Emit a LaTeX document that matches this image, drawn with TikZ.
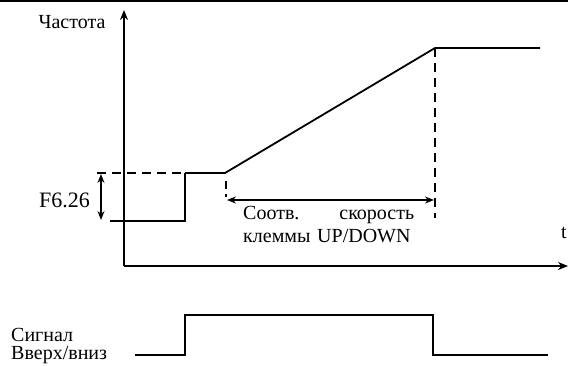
\documentclass[tikz,border=0pt]{standalone}
\usepackage{fontspec}
\setmainfont{Liberation Serif}
\usetikzlibrary{arrows.meta}
\begin{document}
\begin{tikzpicture}[x=1pt,y=-1pt,
  axis/.style={line width=1.8pt,-{Stealth[length=10pt,width=8pt]}},
  curve/.style={line width=1.8pt},
  dsh/.style={line width=1.8pt,dash pattern=on 9pt off 6pt},
  dim/.style={line width=1.3pt,{Stealth[length=9pt,width=7pt]}-{Stealth[length=9pt,width=7pt]}},
  lbl/.style={inner sep=0pt,font=\fontsize{20}{23}\selectfont},
  slbl/.style={inner sep=0pt,font=\fontsize{22}{26}\selectfont}]
\useasboundingbox (0,0) rectangle (568,365);
% top rule
\coordinate (tl) at (0,1);
\coordinate (tr) at (568,1);
\draw[line width=2pt] (tl) -- (tr);
% axes
\coordinate (O) at (124,266);
\coordinate (Ytop) at (124,10);
\coordinate (Xend) at (568,266);
\draw[axis] (O) -- (Ytop);
\draw[axis] (O) -- (Xend);
\node[lbl] (ylab) at (72,22) {Частота};
\node[lbl,anchor=west] (tlab) at (561,233) {t};
% frequency curve
\coordinate (d0) at (97,173);
\coordinate (a) at (185,173);
\coordinate (b) at (225,173);
\coordinate (c) at (435,48);
\coordinate (d) at (540,48);
\coordinate (e0) at (110,221);
\coordinate (e1) at (185,221);
\draw[dsh] (d0) -- (a);
\draw[curve] (a) -- (b) -- (c) -- (d);
\draw[curve] (e0) -- (e1) -- (a);
% F6.26 dimension
\coordinate (f1) at (101,174);
\coordinate (f2) at (101,220);
\draw[dim] (f1) -- (f2);
\node[slbl,anchor=east] (flab) at (90,200) {F6.26};
% dashed verticals
\coordinate (v1) at (435,218);
\draw[dsh] (c) -- (v1);
\coordinate (s1) at (226,181);
\coordinate (s2) at (226,197);
\draw[line width=1.8pt,dash pattern=on 8pt off 5pt] (s1) -- (s2);
% speed dimension
\coordinate (h1) at (227,200);
\coordinate (h2) at (434,200);
\draw[dim] (h1) -- (h2);
\node[lbl,anchor=north west,text width=171pt,align=left] (sp) at (243,206)
  {Соотв.\hfill скорость\\клеммы UP/DOWN};
% signal
\coordinate (g0) at (135,355);
\coordinate (g1) at (185,355);
\coordinate (g2) at (185,315);
\coordinate (g3) at (433,315);
\coordinate (g4) at (433,355);
\coordinate (g5) at (548,355);
\draw[curve] (g0) -- (g1) -- (g2) -- (g3) -- (g4) -- (g5);
\node[inner sep=0pt,font=\fontsize{20}{18}\selectfont,align=left,anchor=north west]
  (sig) at (11,328) {Сигнал\\Вверх/вниз};
\end{tikzpicture}
\end{document}
